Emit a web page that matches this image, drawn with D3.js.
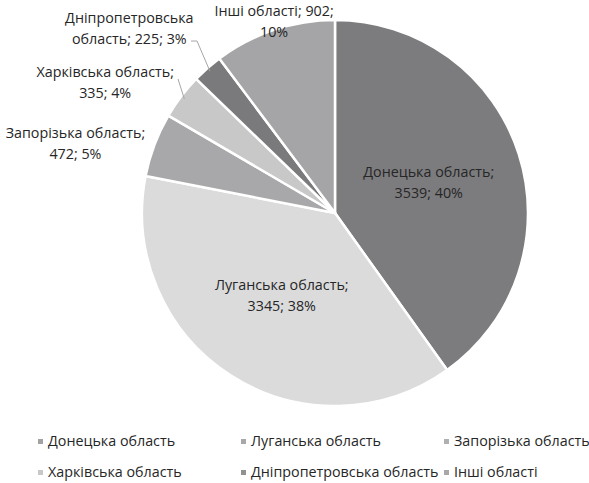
<!DOCTYPE html>
<html>
<head>
<meta charset="utf-8">
<script src="https://cdn.jsdelivr.net/npm/d3@7.9.0/dist/d3.min.js"></script>
<style>
  body { margin: 0; background: #fff; }
  svg text { font-family: "Open Sans", sans-serif; fill: #262626; }
</style>
</head>
<body>
<svg id="chart" width="589" height="483"></svg>
<script>
// data
const regions = ["Донецька область", "Луганська область", "Запорізька область",
                 "Харківська область", "Дніпропетровська область", "Інші області"];
const counts = [3539, 3345, 472, 335, 225, 902];
const shares = ["40%", "38%", "5%", "4%", "3%", "10%"];
const colors = ["#7c7c7e", "#dbdbdc", "#a8a8aa", "#c8c8c9", "#7a7a7c", "#a5a5a7"];
const legendColors = ["#a2a2a3", "#a8a8a9", "#b0b0b1", "#c8c8c9", "#919192", "#a8a8a9"];

const W = 589, H = 483;
const cx = 335, cy = 213, R = 193;
const fontSize = 14.3, lineGap = 21;

const svg = d3.select("#chart");
const g = svg.append("g").attr("transform", `translate(${cx},${cy})`);

const pie = d3.pie().sort(null).value(d => d.value);
const arc = d3.arc().innerRadius(0).outerRadius(R);

const data = regions.map((name, i) => ({ name, value: counts[i], share: shares[i], color: colors[i] }));
const arcs = pie(data);

g.selectAll("path")
  .data(arcs)
  .enter()
  .append("path")
  .attr("d", arc)
  .attr("fill", d => d.data.color)
  .attr("stroke", "#fff")
  .attr("stroke-width", 2.5)
  .attr("stroke-linejoin", "round");

// label placement: inside slices use a radius, outside ones get nudged like Excel's best fit
const labelArc = d3.arc().innerRadius(R * 0.51).outerRadius(R * 0.51);
const outerArc = d3.arc().innerRadius(R).outerRadius(R);
// [dx, dy] from the slice's outer edge, null = inside
const labelNudge = [null, null, [-79, -1], [-76, -14], [-78, -40], [0, -8]];
const labelLines = [
  [regions[0] + ";", counts[0] + "; " + shares[0]],
  [regions[1] + ";", counts[1] + "; " + shares[1]],
  [regions[2] + ";", counts[2] + "; " + shares[2]],
  [regions[3] + ";", counts[3] + "; " + shares[3]],
  ["Дніпропетровська", "область; " + counts[4] + "; " + shares[4]],
  [regions[5] + "; " + counts[5] + ";", shares[5]]
];

arcs.forEach((a, i) => {
  let x, y;
  if (labelNudge[i] === null) {
    [x, y] = labelArc.centroid(a);
  } else {
    const [ox, oy] = outerArc.centroid(a);
    x = ox + labelNudge[i][0];
    y = oy + labelNudge[i][1];
  }
  const t = g.append("text")
    .attr("text-anchor", "middle")
    .attr("font-size", fontSize);
  labelLines[i].forEach((line, k) => {
    t.append("tspan")
      .attr("x", x)
      .attr("y", y + (k - 0.5) * lineGap + 5)
      .text(line);
  });
});

// leader lines for the two thin slices
function leader(a, pts) {
  const [ex, ey] = d3.arc().innerRadius(R - 4).outerRadius(R - 4).centroid(a);
  g.append("polyline")
    .attr("points", pts.map(p => p.join(",")).join(" ") + ` ${ex},${ey}`)
    .attr("fill", "none")
    .attr("stroke", "#a6a6a6")
    .attr("stroke-width", 1);
}
leader(arcs[4], [[191 - cx, 41 - cy], [197 - cx, 41 - cy]]);
leader(arcs[3], [[178 - cx, 79 - cy]]);

// legend
const legendCols = [38, 241, 444];
const legendRows = [441, 472];
const legend = svg.append("g");
data.forEach((d, i) => {
  const x = legendCols[i % 3], y = legendRows[Math.floor(i / 3)];
  legend.append("rect")
    .attr("x", x).attr("y", y - 2)
    .attr("width", 5).attr("height", 5)
    .attr("fill", legendColors[i]);
  legend.append("text")
    .attr("x", x + 10).attr("y", y + 5)
    .attr("font-size", fontSize)
    .text(d.name);
});
</script>
</body>
</html>
